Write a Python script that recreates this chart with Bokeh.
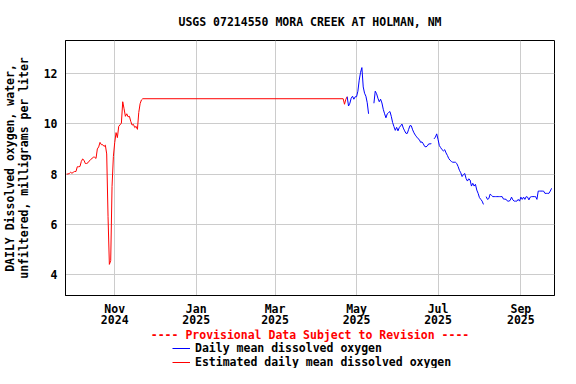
import pandas as pd
from bokeh.plotting import figure
from bokeh.layouts import column
from bokeh.models import Range1d, FixedTicker, Legend, LegendItem, ColumnDataSource, Label
from bokeh.embed import file_html
from bokeh.resources import INLINE

nan = float("nan")

title_text = "USGS 07214550 MORA CREEK AT HOLMAN, NM"
y_label_lines = ["DAILY Dissolved oxygen, water,", "unfiltered, milligrams per liter"]
provisional_text = "---- Provisional Data Subject to Revision ----"
series_names = ["Daily mean dissolved oxygen", "Estimated daily mean dissolved oxygen"]
series_colors = ["#0000ff", "#ff0000"]

x_tick_dates = ["2024-11-01", "2025-01-01", "2025-03-01", "2025-05-01", "2025-07-01", "2025-09-01"]
x_tick_labels = ["Nov\n2024", "Jan\n2025", "Mar\n2025", "May\n2025", "Jul\n2025", "Sep\n2025"]
y_ticks = [4, 6, 8, 10, 12]

# Estimated daily means (red), daily from 2024-09-26 to 2024-11-22
est_start = "2024-09-26"
est_values = [
    8.00, 8.00, 8.02, 8.07, 8.03,
    8.07, 8.10, 8.10, 8.29, 8.29, 8.30, 8.50, 8.60, 8.55, 8.42, 8.42, 8.45, 8.52, 8.58, 8.62,
    8.67, 8.67, 8.62, 9.00, 9.08, 9.26, 9.17, 9.17, 9.10, 9.15, 8.80, 6.30, 4.40, 4.55, 7.50, 8.70,
    9.25, 9.65, 9.45, 9.90, 9.96, 10.03, 10.88, 10.60, 10.30, 10.40, 10.28, 10.30, 10.10, 9.95,
    9.98, 9.85, 9.90, 9.78, 10.45, 10.80, 10.95, 11.00,
]
# Estimated values at the end of the flat estimated period
est_tail_dates = ["2025-04-21", "2025-04-22", "2025-04-23", "2025-04-24"]
est_tail_values = [11.00, 10.78, 10.98, 11.08]

# Daily means (blue), daily from 2025-04-24 (nan = missing day)
daily_start = "2025-04-24"
daily_values = [
    11.08, 10.71, 10.82, 11.02, 11.10, 10.98, 11.08,
    11.08, 11.30, 11.74, 12.05, 12.24, 11.47, 11.22, 11.10, 10.84, 10.40, nan, nan, nan, 10.82,
    11.30, 11.20, 11.02, 10.88, 10.98, 10.83, 10.58, 10.40, 10.24, 10.40, 10.45, 10.49, 10.30,
    10.05, 9.89, 9.74, 9.86,
    9.72, 9.85, 9.92, 9.99, 9.83, 9.72, 9.62, 9.62, 9.78, 9.93, 9.92, 9.76, 9.64, 9.55, 9.48,
    9.41, 9.37, 9.26, 9.28, 9.20, 9.10, 9.08, 9.12, 9.20, 9.20, 9.21, nan, 9.40, 9.47, 9.60,
    9.38, 9.13, 9.05, 8.97, 8.92, 8.97, 8.84, 8.74, 8.62, 8.55, 8.50, 8.47, 8.47, 8.47, 8.42,
    8.30, 8.15, 8.05, 7.90, 7.98, 8.02, 7.82, 7.72, 7.81, 7.76, 7.52, 7.63, 7.52, 7.59, 7.36, 7.23,
    7.06, 6.99, 6.92, 6.79, nan, 7.10, 6.99, 7.02, 7.20, 7.15, 7.10, 7.10, 7.10, 7.10, 7.10,
    7.10, 7.10, 7.10, 7.00, 7.00, 6.99, 6.92, 6.92, 6.95, 7.08, 6.97, 6.92, 6.92, 6.92, 6.99, 6.92,
    7.08, 6.99, 7.08, 6.99, 7.10, 7.08, 6.97, 7.08, 7.10, 7.10, 7.10, 7.10, 6.99, 7.32, 7.32,
    7.32, 7.32, 7.32, 7.23, 7.23, 7.23, 7.23, 7.32, 7.43,
]

x_start = "2024-09-25 04:00"
x_end = "2025-09-26 04:00"
y_start, y_end = 3.16, 13.32

FONT = "DejaVu Sans Mono"
FS = "11.5px"
W = 560
H_MAIN = 329
H_KEY = 39

est_dates = list(pd.date_range(est_start, periods=len(est_values), freq="D")) + [pd.Timestamp(d) for d in est_tail_dates]
est_src = ColumnDataSource(dict(x=est_dates, y=list(est_values) + list(est_tail_values)))
daily_src = ColumnDataSource(dict(x=list(pd.date_range(daily_start, periods=len(daily_values), freq="D")),
                                  y=daily_values))

p = figure(width=W, height=H_MAIN, x_axis_type="datetime", output_backend="svg",
           toolbar_location=None,
           x_range=Range1d(pd.Timestamp(x_start), pd.Timestamp(x_end)),
           y_range=Range1d(y_start, y_end),
           min_border_left=64, min_border_right=6, min_border_top=40, min_border_bottom=34)

p.title.text = title_text
p.title.text_font = FONT
p.title.text_font_size = FS
p.title.text_font_style = "bold"
p.title.align = "center"
p.title.text_color = "black"
p.title.standoff = 24

p.outline_line_color = "black"
p.outline_line_width = 1
p.outline_line_alpha = 1
p.background_fill_color = "white"
p.border_fill_color = "white"

tick_ms = [pd.Timestamp(d).timestamp() * 1000.0 for d in x_tick_dates]
xt = FixedTicker(ticks=tick_ms, minor_ticks=[])
p.xaxis.ticker = xt
p.xaxis.major_label_overrides = {t: lab for t, lab in zip(tick_ms, x_tick_labels)}
p.xgrid.ticker = xt
yt = FixedTicker(ticks=y_ticks, minor_ticks=[])
p.yaxis.ticker = yt
p.ygrid.ticker = yt

for ax in (p.xaxis[0], p.yaxis[0]):
    ax.major_tick_out = 0
    ax.major_tick_in = 0
    ax.minor_tick_out = 0
    ax.minor_tick_in = 0
    ax.axis_line_color = "black"
    ax.major_label_text_font = FONT
    ax.major_label_text_font_size = FS
    ax.major_label_text_font_style = "bold"
    ax.major_label_text_color = "black"

yax = p.yaxis[0]
yax.major_label_standoff = 8
yax.axis_label = "\n".join(y_label_lines)
yax.axis_label_text_font = FONT
yax.axis_label_text_font_size = FS
yax.axis_label_text_font_style = "bold"
yax.axis_label_text_color = "black"
yax.axis_label_text_line_height = 0.97
yax.axis_label_standoff = 10

xax = p.xaxis[0]
xax.major_label_standoff = 6
xax.major_label_text_line_height = 0.81

p.xgrid.grid_line_color = "#cccccc"
p.ygrid.grid_line_color = "#cccccc"

p.line("x", "y", source=est_src, line_color=series_colors[1], line_width=1)
p.line("x", "y", source=daily_src, line_color=series_colors[0], line_width=1)

# Key panel below the chart: provisional note and legend.
# Its frame is aligned with the chart's frame (left = chart frame left).
k = figure(width=W, height=H_KEY, output_backend="svg", toolbar_location=None,
           x_axis_location=None, y_axis_location=None,
           x_range=Range1d(0, 1), y_range=Range1d(0, 1),
           min_border_left=0, min_border_right=0, min_border_top=0, min_border_bottom=0)
k.outline_line_color = None
k.grid.visible = False
k.background_fill_color = "white"
k.border_fill_color = "white"

k.add_layout(Label(x=244.5, y=H_KEY - 5.5, x_units="screen", y_units="screen",
                   text=provisional_text, text_align="center", text_baseline="middle",
                   text_font=FONT, text_font_size=FS, text_font_style="bold",
                   text_color=series_colors[1]))

# legend proxies: same data, drawn far outside this small panel's ranges
key_sources = [daily_src, est_src]
key_rows = [13, -0.5]
for name, color, src, vy in zip(series_names, series_colors, key_sources, key_rows):
    sample = k.line("x", "y", source=src, line_color=color, line_width=1)
    leg = Legend(items=[LegendItem(label=name, renderers=[sample])],
                 location=(107, vy), orientation="vertical",
                 padding=0, margin=0, spacing=0, glyph_width=18, glyph_height=12,
                 label_height=12, label_standoff=5,
                 border_line_alpha=0, background_fill_alpha=0,
                 label_text_font=FONT, label_text_font_size=FS, label_text_font_style="bold",
                 label_text_color="black")
    k.add_layout(leg)

layout = column(p, k, spacing=0)
open("out.html", "w").write(file_html(layout, INLINE))
